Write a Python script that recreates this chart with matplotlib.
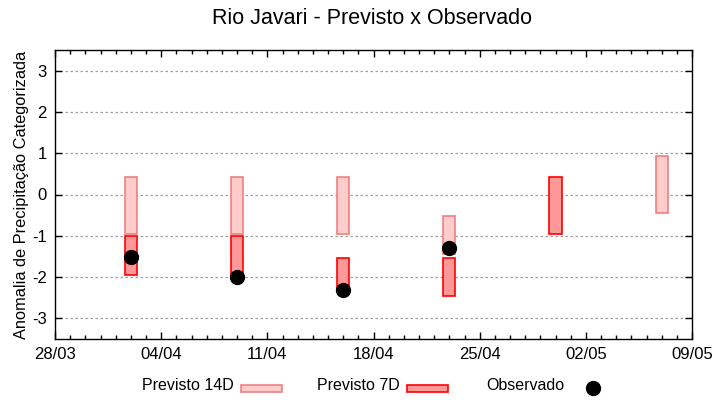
import matplotlib
matplotlib.use("Agg")
import matplotlib.pyplot as plt
import matplotlib.dates as mdates
from matplotlib.patches import Rectangle
from matplotlib.lines import Line2D
import datetime as dt

plt.rcParams['font.family'] = ['Liberation Sans', 'DejaVu Sans']

# Data
dates_14d = ["2024-04-02", "2024-04-09", "2024-04-16", "2024-04-23", "2024-05-07"]
high_14d = [0.43, 0.43, 0.43, -0.53, 0.93]
low_14d = [-0.95, -0.95, -0.95, -1.45, -0.45]

dates_7d = ["2024-04-02", "2024-04-09", "2024-04-16", "2024-04-23", "2024-04-30"]
high_7d = [-1.0, -1.0, -1.53, -1.53, 0.43]
low_7d = [-1.95, -2.0, -2.3, -2.45, -0.95]

dates_obs = ["2024-04-02", "2024-04-09", "2024-04-16", "2024-04-23"]
obs = [-1.52, -2.0, -2.32, -1.3]

x_ticks = ["2024-03-28", "2024-04-04", "2024-04-11", "2024-04-18",
           "2024-04-25", "2024-05-02", "2024-05-09"]
yticks = [-3, -2, -1, 0, 1, 2, 3]

def d(s):
    return mdates.date2num(dt.datetime.strptime(s, "%Y-%m-%d"))

fig = plt.figure(figsize=(7.2, 4.0), dpi=100)
ax = fig.add_axes([55/720, 61/400, 637/720, 289/400])

w = 0.8
for ds, lo, hi in zip(dates_14d, low_14d, high_14d):
    ax.bar(d(ds), hi - lo, bottom=lo, width=w, color="#ffcccc",
           edgecolor="#f08080", linewidth=1.2, zorder=3)
for ds, lo, hi in zip(dates_7d, low_7d, high_7d):
    ax.bar(d(ds), hi - lo, bottom=lo, width=w, color="#ff9999",
           edgecolor="#ff0000", linewidth=1.2, zorder=4)
ax.plot([d(s) for s in dates_obs], obs, 'o', color="black", markersize=10, zorder=5)

ax.set_xlim(d(x_ticks[0]), d(x_ticks[-1]))
ax.set_ylim(-3.5, 3.5)
ax.set_yticks(yticks)
ax.set_yticklabels([str(v) for v in yticks])
ax.set_xticks([d(s) for s in x_ticks])
ax.xaxis.set_major_formatter(mdates.DateFormatter("%d/%m"))
ax.xaxis.set_minor_locator(mdates.DayLocator())
ax.grid(axis='y', color='#a0a0a0', linestyle=(0, (2, 2)), linewidth=0.9, zorder=1)
ax.tick_params(axis='both', which='major', direction='in', length=5, top=True, right=True,
               labelsize=12, width=1, pad=6)
ax.tick_params(axis='x', which='minor', direction='in', length=3, top=True, width=1)
for sp in ax.spines.values():
    sp.set_linewidth(1)
ax.set_ylabel("Anomalia de Precipitação Categorizada", fontsize=11.8, labelpad=2)
fig.text(372/720, 1 - 19/400, "Rio Javari - Previsto x Observado", ha='center', va='center', fontsize=15.5)

# Legend (manual)
ly = 1 - 386/400
fig.text(142/720, ly, "Previsto 14D", ha='left', va='center', fontsize=11.5)
fig.add_artist(Rectangle((241/720, 1 - 392/400), 41/720, 7/400, transform=fig.transFigure,
                         facecolor="#ffcccc", edgecolor="#f08080", linewidth=1.2))
fig.text(317/720, ly, "Previsto 7D", ha='left', va='center', fontsize=11.5)
fig.add_artist(Rectangle((407/720, 1 - 392/400), 41/720, 7/400, transform=fig.transFigure,
                         facecolor="#ff9999", edgecolor="#ff0000", linewidth=1.2))
fig.text(486/720, ly, "Observado", ha='left', va='center', fontsize=11.5)
fig.add_artist(Line2D([593/720], [1 - 388/400], marker='o', color='black', markersize=10,
                      transform=fig.transFigure))

fig.savefig("out.png", dpi=100)
